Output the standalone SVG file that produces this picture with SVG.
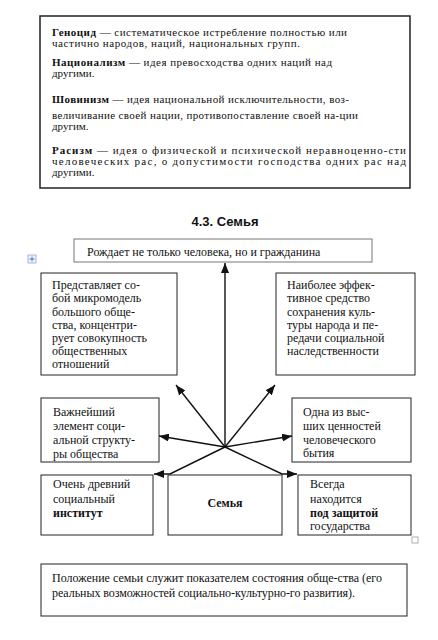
<svg xmlns="http://www.w3.org/2000/svg" width="438" height="640" viewBox="0 0 438 640">
<style>
.t{font-family:"Liberation Serif","Times New Roman",serif;font-size:11px;fill:#111}
.b{font-family:"Liberation Serif","Times New Roman",serif;font-size:12px;fill:#111}
.bold{font-weight:bold}
.title{font-family:"Liberation Sans",Arial,sans-serif;font-size:13px;font-weight:bold;fill:#111}
.box{fill:#fff;stroke:#222;stroke-width:1}
.conn{fill:none;stroke:#111;stroke-width:1.4}
</style>
<defs>
<marker id="arr" markerUnits="userSpaceOnUse" markerWidth="10" markerHeight="8" refX="10" refY="4" orient="auto">
<path d="M0,0 L10,4 L0,8 z" fill="#111"/>
</marker>
</defs>
<rect width="438" height="640" fill="#fff"/>

<g id="definitions">
<rect x="40" y="16" width="370" height="172" fill="#fff" stroke="#222" stroke-width="1.5"/>
<text class="t" x="52" y="36" textLength="295" lengthAdjust="spacing"><tspan class="bold">Геноцид —</tspan> систематическое истребление полностью или</text>
<text class="t" x="52" y="47" textLength="248" lengthAdjust="spacing">частично народов, наций, национальных групп.</text>
<text class="t" x="52" y="66" textLength="280" lengthAdjust="spacing"><tspan class="bold">Национализм —</tspan> идея превосходства одних наций над</text>
<text class="t" x="52" y="77">другими.</text>
<text class="t" x="52" y="103" textLength="297" lengthAdjust="spacing"><tspan class="bold">Шовинизм —</tspan> идея национальной исключительности, воз-</text>
<text class="t" x="52" y="119" textLength="306" lengthAdjust="spacing">величивание своей нации, противопоставление своей на-ции</text>
<text class="t" x="52" y="130">другим.</text>
<text class="t" x="52" y="154" textLength="354" lengthAdjust="spacing"><tspan class="bold">Расизм</tspan> — идея о физической и психической неравноценно-сти</text>
<text class="t" x="52" y="165" textLength="354" lengthAdjust="spacing">человеческих рас, о допустимости господства одних рас над</text>
<text class="t" x="52" y="176">другими.</text>
</g>

<text class="title" x="225" y="226" text-anchor="middle">4.3. Семья</text>

<g id="handle">
<rect x="28" y="255" width="8" height="8" fill="#eef4fb" stroke="#8aa8cc" stroke-width="0.8"/>
<path d="M32,256.5 V261.5 M29.5,259 H34.5" stroke="#3a6fb0" stroke-width="0.9"/>
</g>

<g id="connectors">
<line class="conn" x1="225" y1="447" x2="225" y2="263" marker-end="url(#arr)"/>
<line class="conn" x1="225" y1="447" x2="176" y2="385" marker-end="url(#arr)"/>
<line class="conn" x1="225" y1="447" x2="275" y2="385" marker-end="url(#arr)"/>
<line class="conn" x1="225" y1="447" x2="159" y2="436" marker-end="url(#arr)"/>
<line class="conn" x1="225" y1="447" x2="292" y2="436" marker-end="url(#arr)"/>
<polyline class="conn" points="225,447 170,474 154,474" marker-end="url(#arr)"/>
<polyline class="conn" points="225,447 282,474 297,474" marker-end="url(#arr)"/>
</g>

<g id="node-citizen">
<rect x="74" y="239" width="298" height="23" fill="#fff" stroke="#777" stroke-width="1"/>
<text class="b" x="87" y="256">Рождает не только человека, но и гражданина</text>
</g>

<g id="node-micromodel">
<rect class="box" x="41" y="273" width="136" height="102"/>
<text class="b" x="52" y="289">Представляет со-</text>
<text class="b" x="52" y="302">бой микромодель</text>
<text class="b" x="52" y="315.5">большого обще-</text>
<text class="b" x="52" y="329">ства, концентри-</text>
<text class="b" x="52" y="342">рует совокупность</text>
<text class="b" x="52" y="355">общественных</text>
<text class="b" x="52" y="368">отношений</text>
</g>

<g id="node-culture">
<rect class="box" x="276" y="273" width="139" height="102"/>
<text class="b" x="287" y="289">Наиболее эффек-</text>
<text class="b" x="287" y="302">тивное средство</text>
<text class="b" x="287" y="315.5">сохранения куль-</text>
<text class="b" x="287" y="329">туры народа и пе-</text>
<text class="b" x="287" y="342">редачи социальной</text>
<text class="b" x="287" y="355">наследственности</text>
</g>

<g id="node-structure">
<rect class="box" x="41" y="398" width="118" height="64"/>
<text class="b" x="53" y="416">Важнейший</text>
<text class="b" x="53" y="430">элемент соци-</text>
<text class="b" x="53" y="444">альной структу-</text>
<text class="b" x="53" y="458">ры общества</text>
</g>

<g id="node-values">
<rect class="box" x="292" y="398" width="119" height="64"/>
<text class="b" x="303" y="416">Одна из выс-</text>
<text class="b" x="303" y="430">ших ценностей</text>
<text class="b" x="303" y="444">человеческого</text>
<text class="b" x="303" y="457">бытия</text>
</g>

<g id="node-institute">
<rect class="box" x="41" y="475" width="112" height="60"/>
<text class="b" x="53" y="488">Очень древний</text>
<text class="b" x="53" y="503">социальный</text>
<text class="b" x="53" y="517" font-weight="600">институт</text>
</g>

<g id="node-family">
<rect class="box" x="168" y="475" width="114" height="60"/>
<text class="b bold" x="225" y="507" text-anchor="middle">Семья</text>
</g>

<g id="node-state">
<rect class="box" x="298" y="475" width="113" height="60"/>
<text class="b" x="310" y="488">Всегда</text>
<text class="b" x="310" y="502.5">находится</text>
<text class="b bold" x="310" y="517">под защитой</text>
<text class="b" x="310" y="530">государства</text>
</g>

<rect x="412" y="537" width="6" height="6" fill="#fff" stroke="#999" stroke-width="0.8"/>

<g id="node-position">
<rect class="box" x="41" y="564" width="366" height="52"/>
<text class="b" x="52" y="582" textLength="330" lengthAdjust="spacing">Положение семьи служит показателем состояния обще-ства (его</text>
<text class="b" x="52" y="597" textLength="303" lengthAdjust="spacing">реальных возможностей социально-культурно-го развития).</text>
</g>
</svg>
